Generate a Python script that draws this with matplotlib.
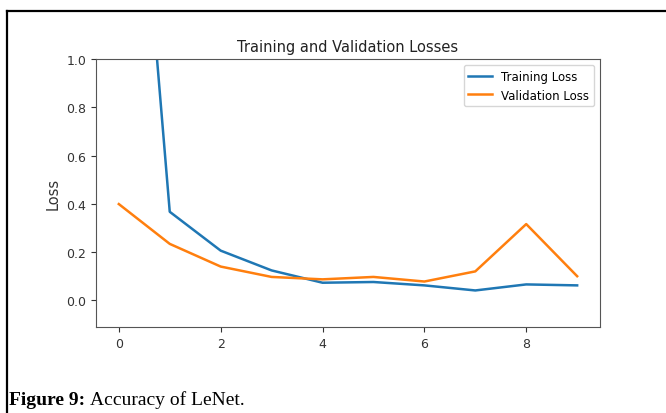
import matplotlib
matplotlib.use("Agg")
import matplotlib.pyplot as plt
from matplotlib.lines import Line2D

# valores
epochs = list(range(10))
train_loss = [2.9, 0.367, 0.206, 0.124, 0.073, 0.076, 0.062, 0.041, 0.066, 0.062]
val_loss = [0.399, 0.234, 0.140, 0.097, 0.087, 0.097, 0.078, 0.120, 0.316, 0.100]

fig = plt.figure(figsize=(6.66, 4.14), dpi=100)
ax = fig.add_axes([0.144, 0.208, 0.757, 0.647])

ax.plot(epochs, train_loss, color='#1f77b4', lw=1.8, label='Training Loss')
ax.plot(epochs, val_loss, color='#ff7f0e', lw=1.8, label='Validation Loss')

ax.set_xlim(-0.45, 9.45)
ax.set_ylim(-0.11, 1.0)
ax.set_xticks([0, 2, 4, 6, 8])
ax.set_yticks([0.0, 0.2, 0.4, 0.6, 0.8, 1.0])
ax.tick_params(labelsize=9, colors='#333333')
for s in ax.spines.values():
    s.set_color('#555555')

ax.set_title('Training and Validation Losses', fontsize=10.5, color='#222222')
ax.set_ylabel('Loss', fontsize=10.5, color='#333333')
ax.legend(loc='upper right', fontsize=8.5)

# marco y pie de figura
fig.add_artist(Line2D([0.0105, 0.0105], [0.0, 0.971], color='black', lw=1.6))
fig.add_artist(Line2D([0.0105, 1.0], [0.971, 0.971], color='black', lw=1.6))
t1 = fig.text(0.013, 0.012, 'Figure 9:', fontsize=14, fontweight='bold',
              family='Liberation Serif', va='bottom')
ax.annotate('Accuracy of LeNet.', xy=(1, 0), xycoords=t1, xytext=(4, 0),
            textcoords='offset points', fontsize=14, family='Liberation Serif',
            va='bottom', annotation_clip=False)

fig.savefig('out.png', dpi=100)
